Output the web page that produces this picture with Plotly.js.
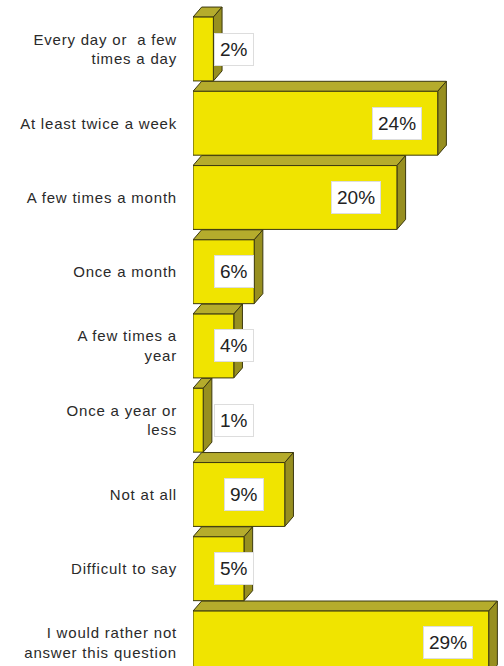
<!DOCTYPE html>
<html>
<head>
<meta charset="utf-8">
<script src="https://cdn.plot.ly/plotly-3.0.1.min.js"></script>
<style>
html,body{margin:0;padding:0;background:#fff;}
#chart{width:504px;height:666px;}
#chart .ytick text{letter-spacing:0.8px;}
</style>
</head>
<body>
<div id="chart"></div>
<script>
const categories = ["Every day or  a few<br>times a day", "At least twice a week", "A few times a month", "Once a month", "A few times a<br>year", "Once a year or<br>less", "Not at all", "Difficult to say", "I would rather not<br>answer this question"];
const values = [2, 24, 20, 6, 4, 1, 9, 5, 29];
const valueLabels = values.map(v => v + '%');

const idx = categories.map((c, i) => i);
const barW = 0.86;
const dx = 0.85;   // depth in x units (%)
const dy = 0.135;  // depth in y units

const frontColor = '#F0E400', topColor = '#B5AC2C', sideColor = '#978F20', edgeColor = '#3b3810';

const shapes = [];
values.forEach((v, i) => {
  const yT = i - barW / 2, yB = i + barW / 2;
  shapes.push({type: 'path', xref: 'x', yref: 'y', layer: 'below',
    path: `M0,${yT} L${dx},${yT - dy} L${v + dx},${yT - dy} L${v},${yT} Z`,
    fillcolor: topColor, line: {color: edgeColor, width: 1}});
  shapes.push({type: 'path', xref: 'x', yref: 'y', layer: 'below',
    path: `M${v},${yT} L${v + dx},${yT - dy} L${v + dx},${yB - dy} L${v},${yB} Z`,
    fillcolor: sideColor, line: {color: edgeColor, width: 1}});
});

const annotations = values.map((v, i) => ({
  x: Math.max(v - 4, 4), y: i, xref: 'x', yref: 'y',
  text: valueLabels[i], showarrow: false, xanchor: 'center', yanchor: 'middle',
  bgcolor: '#ffffff', bordercolor: '#dddddd', borderwidth: 1, borderpad: 5,
  font: {family: 'Liberation Sans, Arial, sans-serif', size: 19, color: '#222'}
}));

const trace = {
  type: 'bar', orientation: 'h', x: values, y: idx, width: barW,
  marker: {color: frontColor, line: {color: edgeColor, width: 1}},
  hoverinfo: 'none'
};

const layout = {
  width: 504, height: 666,
  margin: {l: 193, r: 0, t: 0, b: 0},
  paper_bgcolor: '#fff', plot_bgcolor: '#fff',
  showlegend: false,
  xaxis: {range: [0, 30.5], visible: false, fixedrange: true},
  yaxis: {range: [8.31, -0.66], tickmode: 'array', tickvals: idx, ticktext: categories,
    showgrid: false, zeroline: false, showline: false, ticks: '',
    ticklabelstandoff: 15,
    tickfont: {family: 'Liberation Sans, Arial, sans-serif', size: 15, color: '#2a2a2a'}},
  shapes: shapes,
  annotations: annotations
};

Plotly.newPlot('chart', [trace], layout, {displayModeBar: false, staticPlot: true});
</script>
</body>
</html>
